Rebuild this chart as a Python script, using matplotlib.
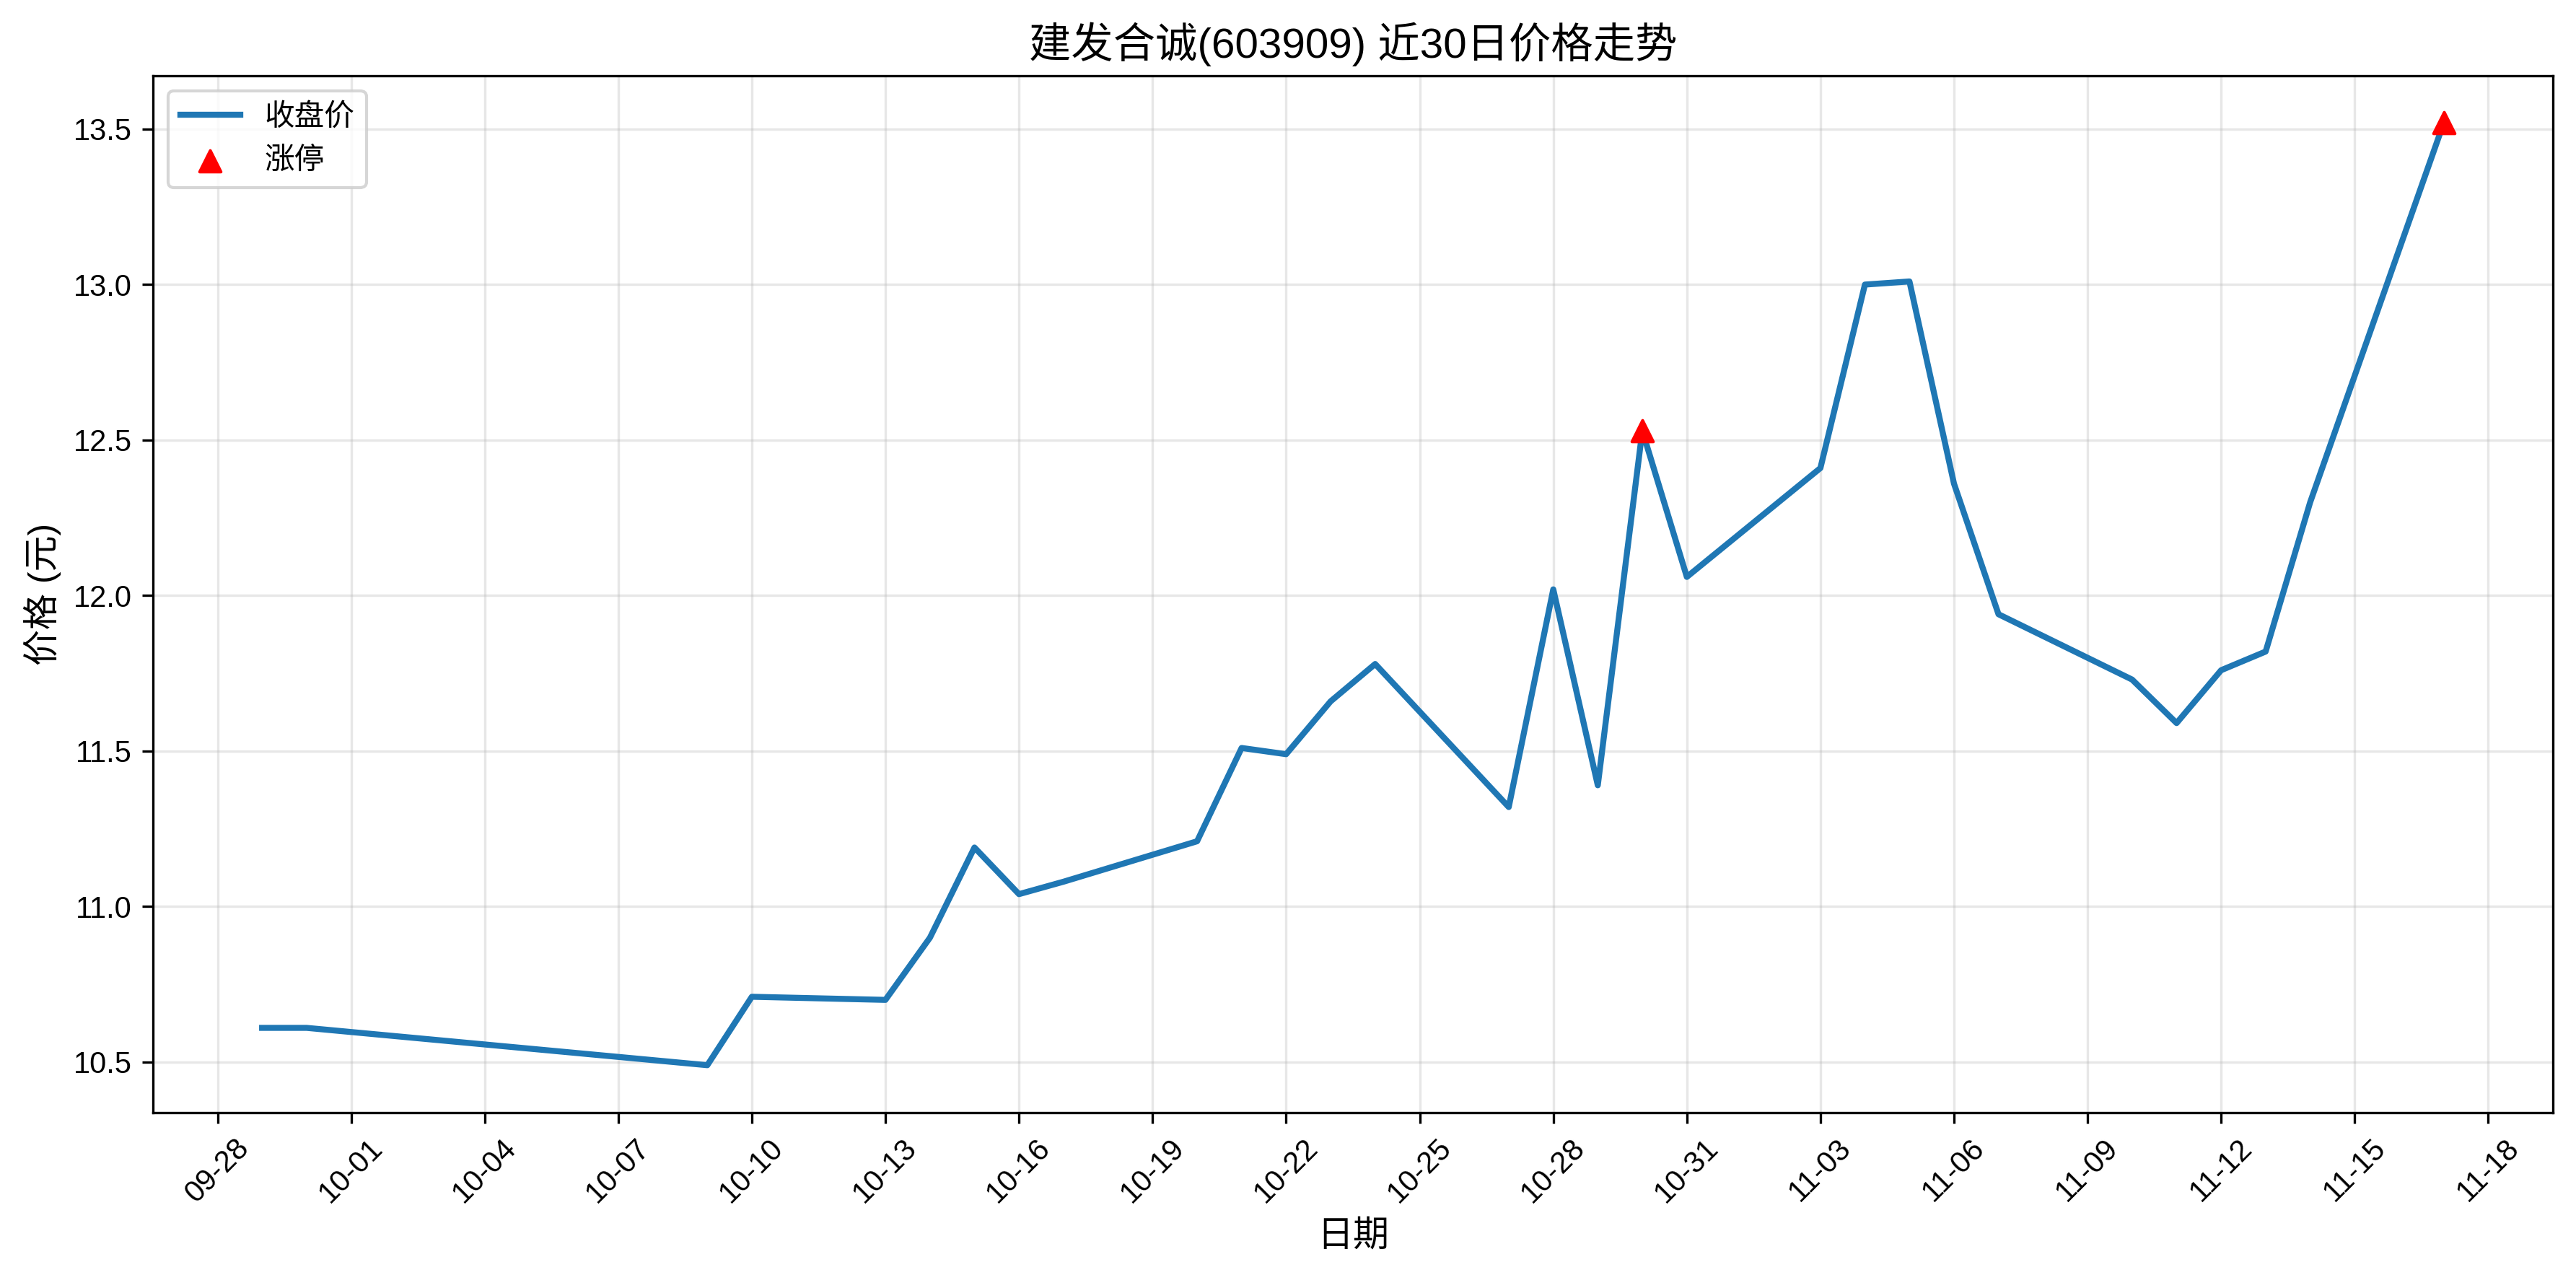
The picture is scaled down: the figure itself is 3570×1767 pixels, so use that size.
import matplotlib
matplotlib.use("Agg")
import matplotlib.pyplot as plt
import matplotlib.dates as mdates
import pandas as pd

plt.rcParams['font.family'] = ['Liberation Sans', 'Noto Sans CJK SC', 'DejaVu Sans']
plt.rcParams['axes.unicode_minus'] = False

dates = ["2025-09-29", "2025-09-30", "2025-10-09", "2025-10-10", "2025-10-13",
         "2025-10-14", "2025-10-15", "2025-10-16", "2025-10-17", "2025-10-20",
         "2025-10-21", "2025-10-22", "2025-10-23", "2025-10-24", "2025-10-27",
         "2025-10-28", "2025-10-29", "2025-10-30", "2025-10-31", "2025-11-03",
         "2025-11-04", "2025-11-05", "2025-11-06", "2025-11-07", "2025-11-10",
         "2025-11-11", "2025-11-12", "2025-11-13", "2025-11-14", "2025-11-17"]
close = [10.61, 10.61, 10.49, 10.71, 10.70,
         10.90, 11.19, 11.04, 11.08, 11.21,
         11.51, 11.49, 11.66, 11.78, 11.32,
         12.02, 11.39, 12.53, 12.06, 12.41,
         13.00, 13.01, 12.36, 11.94, 11.73,
         11.59, 11.76, 11.82, 12.30, 13.52]
limit_up_dates = ["2025-10-30", "2025-11-17"]
limit_up_prices = [12.53, 13.52]
tick_start, tick_end = "2025-09-28", "2025-11-18"

title = "建发合诚(603909) 近30日价格走势"

x = pd.to_datetime(dates)
xl = pd.to_datetime(limit_up_dates)
ticks = pd.date_range(tick_start, tick_end, freq="3D")

fig = plt.figure(figsize=(11.9, 5.89), dpi=300)
ax = fig.add_axes([0.0594, 0.1276, 0.9316, 0.813])
ax.plot(x, close, color="#1f77b4", linewidth=2, label="收盘价", zorder=2)
ax.scatter(xl, limit_up_prices, marker="^", color="red", s=50, label="涨停", zorder=3)

ax.set_xticks(ticks)
ax.xaxis.set_major_formatter(mdates.DateFormatter("%m-%d"))
plt.setp(ax.get_xticklabels(), rotation=45)
ax.set_title(title, fontsize=14)
ax.set_xlabel("日期", fontsize=12)
ax.set_ylabel("价格 (元)", fontsize=12)
ax.grid(True, alpha=0.3)
ax.legend(loc="upper left")

fig.savefig("out.png", dpi=300)
